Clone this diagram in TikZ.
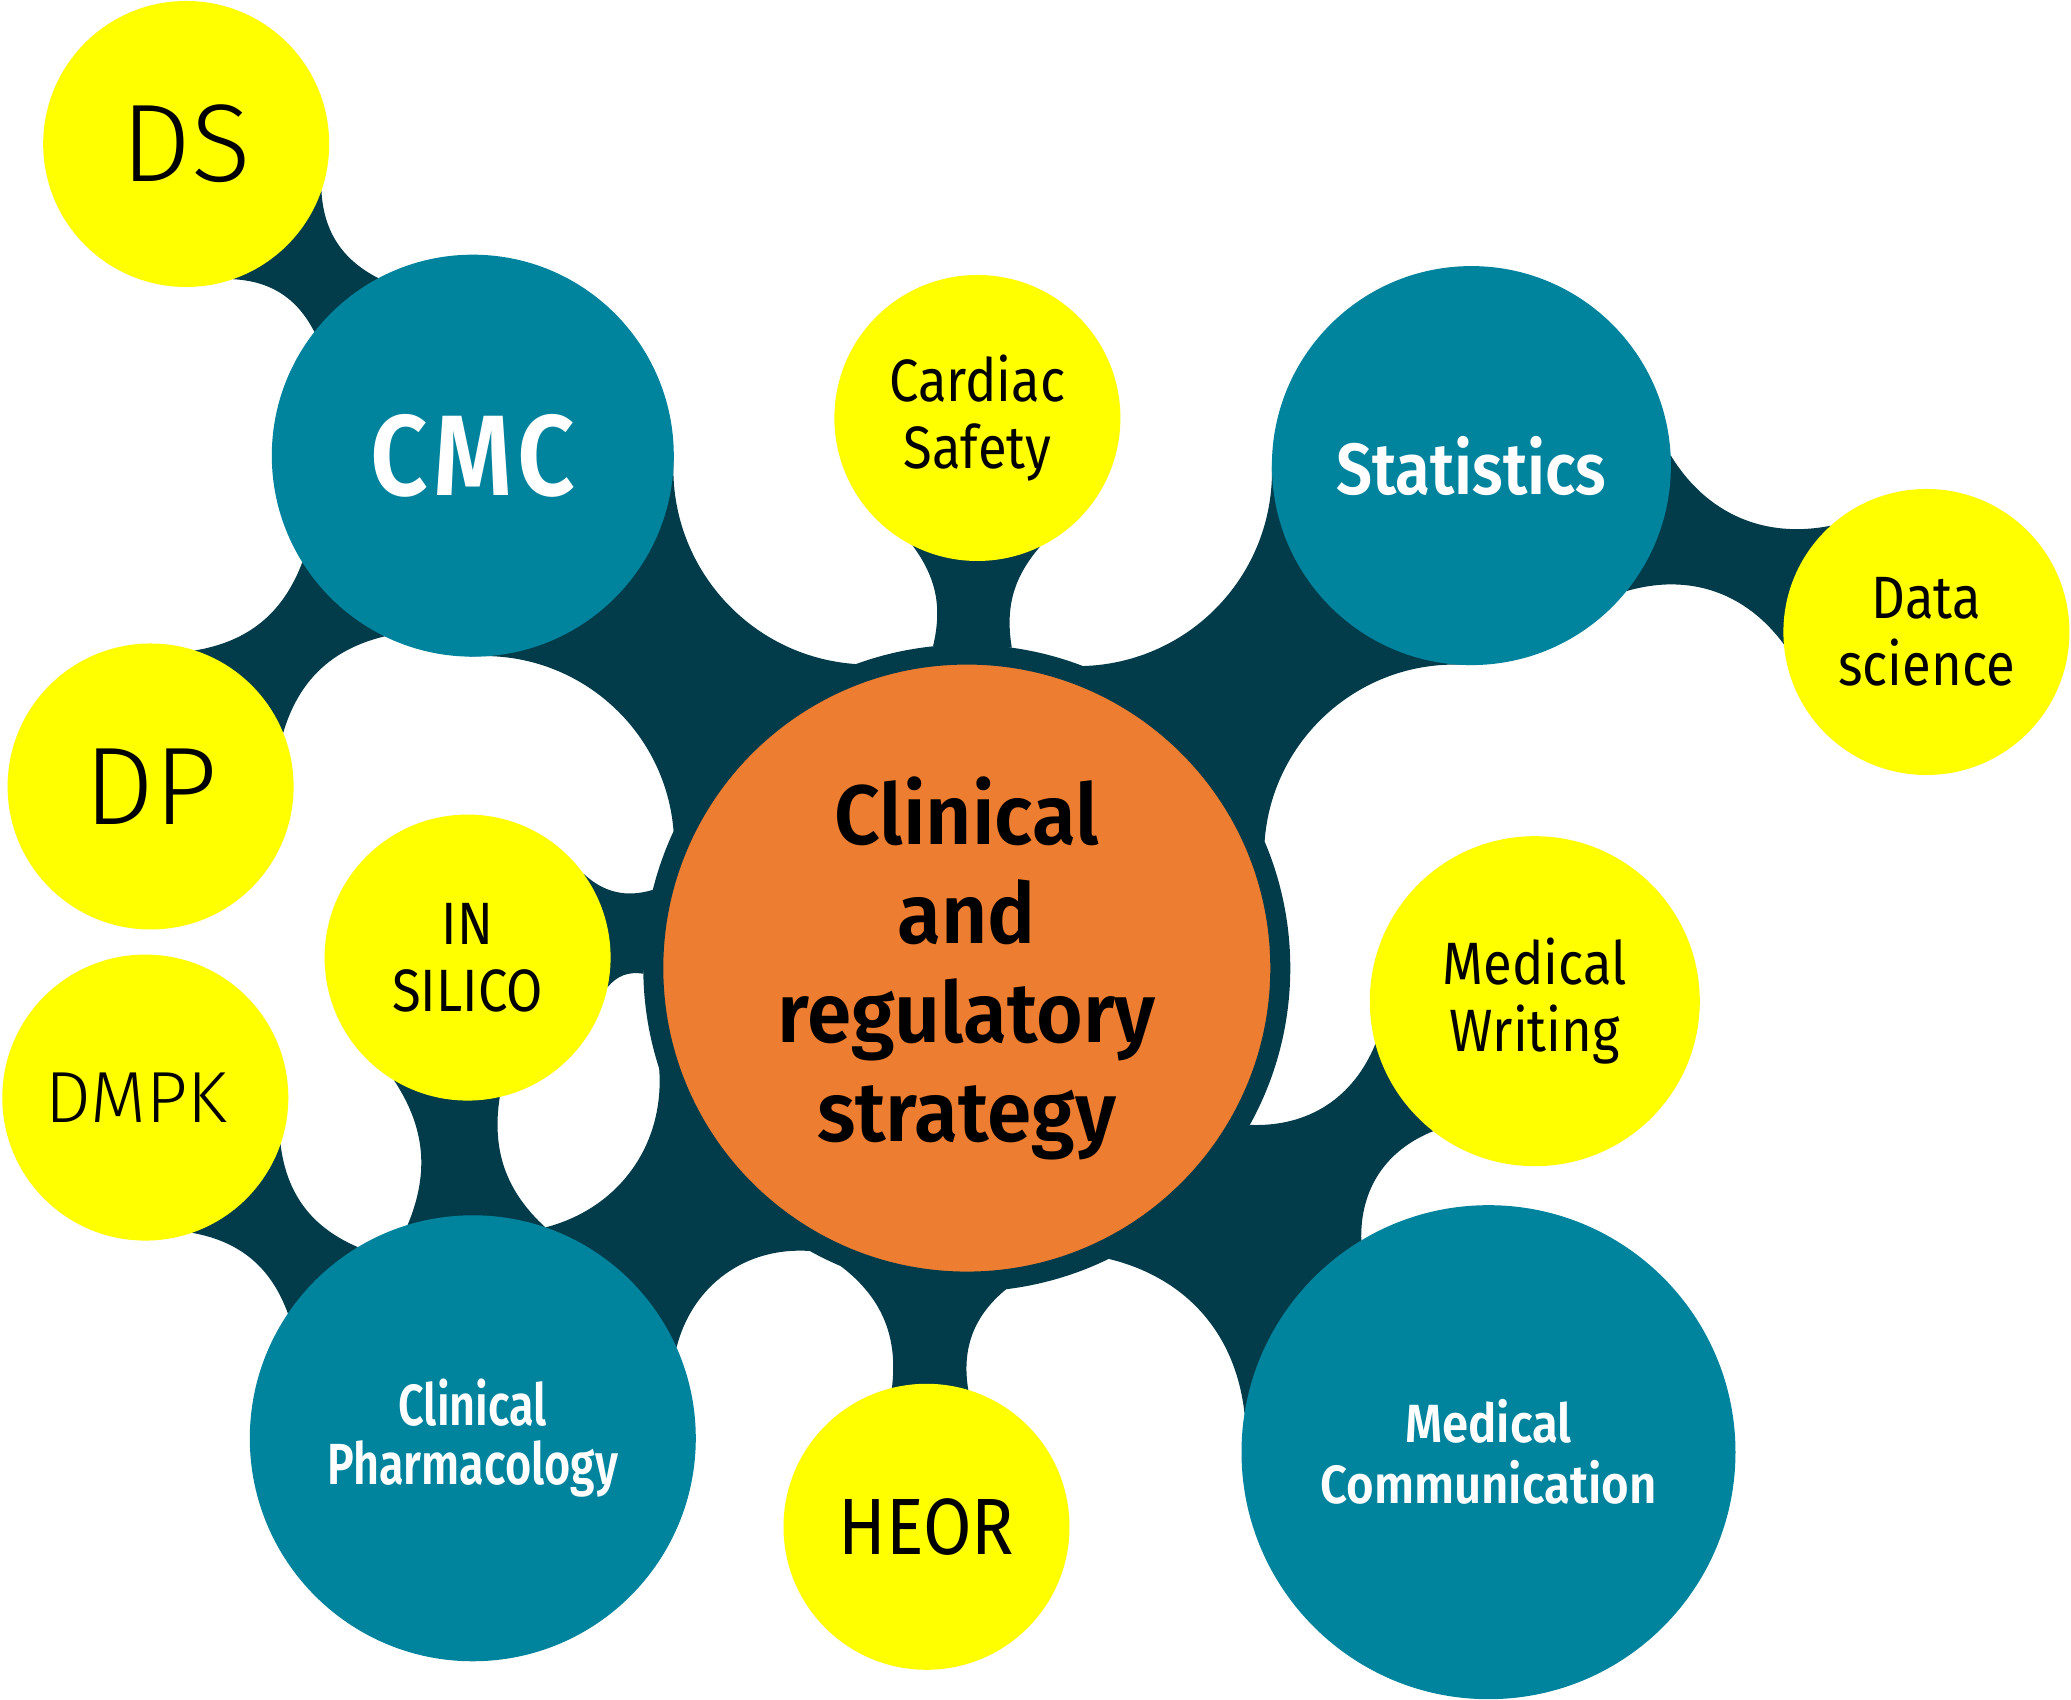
\documentclass[tikz,border=0pt]{standalone}
\usepackage{fontspec}
\setmainfont{Fira Sans}
\newfontfamily\lightfont{Fira Sans Light}
\newfontfamily\bookfont[FakeStretch=0.88]{Fira Sans}
\newfontfamily\semifont[FakeStretch=0.88]{Fira Sans SemiBold}
\newfontfamily\hubfont[FakeStretch=0.95]{Fira Sans SemiBold}
\newfontfamily\narrowfont[FakeStretch=0.775]{Fira Sans SemiBold}
\newfontfamily\medfont[FakeStretch=0.88,LetterSpace=5]{Fira Sans SemiBold}
\usetikzlibrary{backgrounds}
\definecolor{webdark}{RGB}{2,59,74}
\definecolor{bubteal}{RGB}{0,132,158}
\definecolor{bubyellow}{RGB}{255,255,0}
\definecolor{huborange}{RGB}{237,125,49}

\begin{document}
\begin{tikzpicture}[
    bubble/.style={circle, inner sep=0pt, outer sep=0pt, align=center},
    yelbub/.style={bubble, fill=bubyellow, minimum size=2.86cm, font=\bookfont\fontsize{17}{19}\selectfont},
    tealbub/.style={bubble, fill=bubteal, text=white},
    hub/.style={bubble, fill=huborange, draw=webdark, line width=0.2cm, outer sep=0.1cm, minimum size=6.27cm},
    web/.style={fill=webdark}]
  \useasboundingbox (0,0) rectangle (20.71,17);

  % centre
  \node[hub, font=\hubfont\fontsize{24}{28.2}\selectfont] (crs) at (9.668,7.319) {Clinical\\and\\regulatory\\strategy};

  % teal bubbles
  \node[tealbub, minimum size=4.02cm, font=\medfont\fontsize{32.6}{36}\selectfont] (cmc) at (4.728,12.443) {CMC};
  \node[tealbub, minimum size=3.99cm, font=\semifont\fontsize{20.6}{24}\selectfont] (st) at (14.714,12.344) {Statistics};
  \node[tealbub, minimum size=4.46cm, font=\narrowfont\fontsize{16.5}{16.9}\selectfont] (cp) at (4.728,2.617) {Clinical\\Pharmacology};
  \node[tealbub, minimum size=4.94cm, font=\semifont\fontsize{15.3}{17.3}\selectfont] (mc) at (14.885,2.478) {Medical\\Communication};

  % yellow bubbles
  \node[yelbub, font=\lightfont\fontsize{31.4}{34}\selectfont] (ds) at (1.862,15.56) {DS};
  \node[yelbub] (cs) at (9.774,12.82) {Cardiac\\Safety};
  \node[yelbub] (dsci) at (19.264,10.68) {Data\\science};
  \node[yelbub, font=\lightfont\fontsize{31.4}{34}\selectfont] (dp) at (1.506,9.135) {DP};
  \node[yelbub] (is) at (4.676,7.424) {IN\\SILICO};
  \node[yelbub, font=\lightfont\fontsize{20.6}{24}\selectfont] (dm) at (1.453,6.024) {DMPK\hspace*{0.18cm}};
  \node[yelbub, font=\bookfont\fontsize{22.7}{26}\selectfont] (heor) at (9.265,1.732) {HEOR};
  \node[yelbub, minimum size=3.30cm] (mw) at (15.348,6.988) {Medical\\Writing};

  % webs between bubbles
  \begin{scope}[on background layer]
    \foreach \na/\angA/\angB/\nb/\angC/\angD/\bend in {
        ds/341/289/cmc/118/142/30, cmc/244/212/dp/22/72/30,
        cmc/0/269/crs/110/155/45, cs/296/243/crs/82/96/25,
        st/269/180/crs/23/69/45, st/3/321/dsci/132/185/35,
        is/36/348/crs/166/181/30, is/283/239/cp/71/107/28,
        cp/71/24/crs/198/241/40, dm/341/289/cp/121/146/30,
        heor/104/73/crs/247/277/30}
      \fill[web] (\na.\angA) to[bend right=\bend] (\nb.\angC) -- (\nb.\angD)
        to[bend right=\bend] (\na.\angB) -- cycle;
    % joint of centre, writing and communication
    \fill[web] (crs.331) to[bend right=35] (mw.195) -- (mw.232)
      to[bend right=35] (mc.121) -- (mc.171) to[bend right=35] (crs.296) -- cycle;
  \end{scope}
\end{tikzpicture}
\end{document}
